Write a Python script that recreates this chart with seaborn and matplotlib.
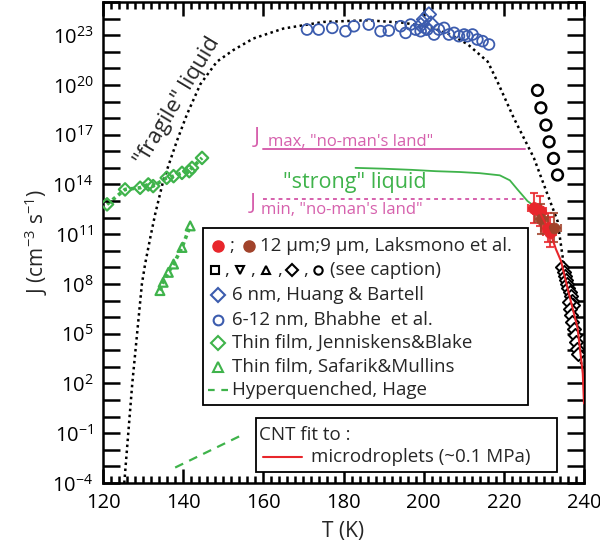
import matplotlib
matplotlib.use("Agg")
import matplotlib.pyplot as plt
import numpy as np
import seaborn as sns
from matplotlib.patches import Rectangle
from matplotlib.ticker import FixedLocator, MultipleLocator, FuncFormatter, NullFormatter

# temperatures in K, rates as log10(J / cm^-3 s^-1)
fragile_T = [125.3, 126.3, 127.3, 128.5, 129.7, 130.5, 131.8, 133.0, 135.0, 138.4, 140.9,
             144.3, 148.4, 152.5, 157.5, 165.0, 175.0, 186.0, 195.0, 202.0, 207.0, 211.0,
             216.0, 218.4, 222.5, 227.5, 230.9, 233.4, 236.0, 238.4, 239.5]
fragile_logJ = [-4.0, -1.0, 2.0, 5.0, 8.0, 9.2, 10.8, 12.2, 14.2, 16.6, 18.2,
                20.05, 21.4, 22.1, 22.8, 23.4, 23.8, 23.9, 23.75, 23.45, 23.0, 22.45,
                21.4, 20.2, 18.0, 15.6, 13.4, 11.8, 7.4, 4.2, 3.0]

strong_T = [183.0, 190.0, 197.0, 203.0, 209.0, 214.0, 219.0, 221.5, 223.4, 225.9, 227.0]
strong_logJ = [15.0, 14.95, 14.88, 14.8, 14.75, 14.68, 14.55, 14.25, 13.7, 13.0, 12.8]

bhabhe_T = [170.9, 173.8, 177.2, 180.5, 182.6, 186.3, 189.25, 191.3, 194.25, 195.5, 196.75,
            198.0, 199.25, 200.9, 202.6, 203.8, 205.1, 206.3, 207.6, 208.8, 210.1, 210.9,
            212.2, 213.4, 214.7, 216.3]
bhabhe_logJ = [23.34, 23.34, 23.44, 23.24, 23.54, 23.64, 23.24, 23.28, 23.54, 23.14, 23.64,
               23.34, 23.24, 23.34, 23.04, 23.34, 23.44, 23.04, 23.14, 22.94, 23.04, 22.94,
               23.04, 22.74, 22.64, 22.44]

huang_T = [199.3, 200.1, 201.3, 200.6, 201.8]
huang_logJ = [23.6, 23.95, 24.25, 23.45, 23.7]

caption_circ_T = [228.4, 229.25, 230.5, 231.3, 232.4, 233.4]
caption_circ_logJ = [19.67, 18.62, 17.58, 16.57, 15.57, 14.57]

caption_upper_T = [234.6, 234.9, 235.2, 235.5, 235.8, 236.1, 236.4, 236.7, 237.0, 237.3]
caption_upper_logJ = [9.0, 8.75, 8.5, 8.25, 8.0, 7.75, 7.5, 7.25, 7.0, 6.75]
caption_lower_T = [236.2, 236.5, 236.8, 237.1, 237.4, 237.7, 238.0, 238.3, 238.6]
caption_lower_logJ = [6.9, 6.5, 6.1, 5.7, 5.3, 4.9, 4.5, 4.1, 3.8]

laks12_T = [227.6, 229.0, 230.9, 231.4]
laks12_logJ = [12.6, 12.4, 11.4, 11.15]
laks9_T = [229.3, 232.6]
laks9_logJ = [11.9, 11.4]
err_logJ = 0.9
err_T = 1.6

cnt_T = [227.5, 229.0, 230.5, 232.0, 233.0, 234.25, 236.25, 238.4, 239.7, 240.0]
cnt_logJ = [12.9, 12.3, 11.6, 10.8, 10.1, 9.4, 7.4, 5.35, 2.6, 0.8]

jenn_T = [121.0, 125.5, 129.25, 131.3, 132.5, 135.9, 137.6, 139.7, 141.5, 142.2, 144.7]
jenn_logJ = [12.8, 13.7, 13.8, 14.0, 13.9, 14.4, 14.5, 14.7, 14.8, 15.0, 15.6]

safarik_T = [134.2, 135.0, 136.3, 137.6, 139.7, 141.75]
safarik_logJ = [7.6, 8.1, 8.7, 9.2, 10.2, 11.5]

hage_T = [138.0, 154.25]
hage_logJ = [-3.07, -1.16]

nml_T = [160.0, 225.3]
jmax_logJ = 16.15
jmin_logJ = 13.14

y_label_exps = [-4, -1, 2, 5, 8, 11, 14, 17, 20, 23]

PINK = "#d661ad"
GREEN = "#3fb34b"
BLUE = "#3c5cae"
RED = "#e8262b"
BROWN = "#a1432b"


def J(v):
    return 10.0 ** np.asarray(v, dtype=float)


sns.set_style("ticks")
plt.rcParams["font.family"] = ["Open Sans", "DejaVu Sans"]
plt.rcParams["mathtext.default"] = "regular"
plt.rcParams["axes.axisbelow"] = False

fig, ax = plt.subplots(figsize=(6.0, 5.45), dpi=100)
fig.subplots_adjust(left=0.1717, right=0.9733, bottom=0.1138, top=0.9963)
ax.set_yscale("log")

# curves
sns.lineplot(x=fragile_T, y=J(fragile_logJ), ax=ax, color="black", lw=1.8,
             linestyle=(0, (1, 1.4)), estimator=None, sort=False)
sns.lineplot(x=strong_T, y=J(strong_logJ), ax=ax, color=GREEN, lw=1.3, estimator=None)
ax.plot(nml_T, J([jmax_logJ, jmax_logJ]), color=PINK, lw=1.4)
ax.plot(nml_T, J([jmin_logJ, jmin_logJ]), color=PINK, lw=1.4, linestyle=(0, (2, 2)))
sns.lineplot(x=hage_T, y=J(hage_logJ), ax=ax, color=GREEN, lw=1.6,
             linestyle=(0, (4, 3)), estimator=None)

# thin films
sns.lineplot(x=jenn_T, y=J(jenn_logJ), ax=ax, color=GREEN, lw=2.6,
             linestyle=(0, (1, 1)), estimator=None)
sns.scatterplot(x=jenn_T, y=J(jenn_logJ), ax=ax, marker="D", s=40, facecolor="none",
                edgecolor=GREEN, linewidth=1.6, zorder=3)
sns.lineplot(x=safarik_T, y=J(safarik_logJ), ax=ax, color=GREEN, lw=2.6,
             linestyle=(0, (1, 1)), estimator=None)
sns.scatterplot(x=safarik_T, y=J(safarik_logJ), ax=ax, marker="^", s=40, facecolor="none",
                edgecolor=GREEN, linewidth=1.6, zorder=3)

# nanodroplets
sns.scatterplot(x=bhabhe_T, y=J(bhabhe_logJ), ax=ax, marker="o", s=60, facecolor="none",
                edgecolor=BLUE, linewidth=1.3, zorder=3)
sns.scatterplot(x=huang_T, y=J(huang_logJ), ax=ax, marker="D", s=55, facecolor="none",
                edgecolor=BLUE, linewidth=1.3, zorder=3)

# microdroplets (see caption)
sns.scatterplot(x=caption_circ_T, y=J(caption_circ_logJ), ax=ax, marker="o", s=60,
                facecolor="none", edgecolor="black", linewidth=1.8, zorder=3)
sns.scatterplot(x=caption_upper_T, y=J(caption_upper_logJ), ax=ax, marker="D", s=45,
                facecolor="white", edgecolor="black", linewidth=1.4, zorder=3)
sns.scatterplot(x=caption_lower_T, y=J(caption_lower_logJ), ax=ax, marker="D", s=45,
                facecolor="white", edgecolor="black", linewidth=1.4, zorder=3)

# Laksmono et al.
for Ts, Ls, col in [(laks12_T, laks12_logJ, RED), (laks9_T, laks9_logJ, BROWN)]:
    y = J(Ls)
    yerr = [y - y / 10 ** err_logJ, y * 10 ** err_logJ - y]
    ax.errorbar(Ts, y, yerr=yerr, xerr=err_T, fmt="none", ecolor=col, elinewidth=1.5,
                capsize=3, capthick=1.5, alpha=0.85, zorder=4)
sns.scatterplot(x=laks12_T, y=J(laks12_logJ), ax=ax, marker="o", s=70, color=RED,
                edgecolor=RED, zorder=5)
sns.scatterplot(x=laks9_T, y=J(laks9_logJ), ax=ax, marker="o", s=60, color=BROWN,
                edgecolor=BROWN, zorder=5)
sns.lineplot(x=cnt_T, y=J(cnt_logJ), ax=ax, color=RED, lw=1.5, estimator=None, zorder=6)

# axes and inward ticks on all four sides
ax.set_xlim(120, 240)
ax.set_ylim(1e-4, 1e25)
ax.xaxis.set_major_locator(MultipleLocator(20))
ax.xaxis.set_minor_locator(MultipleLocator(2))
ax.yaxis.set_major_locator(FixedLocator([10.0 ** e for e in y_label_exps]))
ax.yaxis.set_minor_locator(FixedLocator([10.0 ** e for e in range(-4, 26)]))
ax.yaxis.set_major_formatter(FuncFormatter(lambda v, p: "$10^{%d}$" % round(np.log10(v))))
ax.yaxis.set_minor_formatter(NullFormatter())
ax.tick_params(axis="both", which="both", direction="in", bottom=True, top=True,
               left=True, right=True, color="black", width=1.8)
ax.tick_params(axis="both", which="major", labelsize=14.5, labelcolor="black", pad=7)
ax.tick_params(axis="x", which="major", length=10)
ax.tick_params(axis="x", which="minor", length=5)
ax.tick_params(axis="y", which="both", length=12)
for sp in ax.spines.values():
    sp.set_visible(True)
    sp.set_linewidth(1.8)
    sp.set_color("black")
ax.set_xlabel("T (K)", fontsize=15, labelpad=6)
ax.set_ylabel("J (cm$^{-3}$ s$^{-1}$)", fontsize=15, labelpad=2)

# annotations
ax.text(138.6, J(19.0), '"fragile" liquid', rotation=59, fontsize=16,
        ha="center", va="center", rotation_mode="anchor")
ax.text(182.8, J(14.1), '"strong" liquid', color=GREEN, fontsize=15.5,
        ha="center", va="center")
ax.text(157.6, J(16.5), "J", color=PINK, fontsize=16, ha="left", va="baseline")
ax.text(161.2, J(16.3), 'max, "no-man\'s land"', color=PINK, fontsize=12,
        ha="left", va="baseline")
ax.text(156.6, J(12.5), "J", color=PINK, fontsize=16, ha="left", va="baseline")
ax.text(159.3, J(12.2), 'min, "no-man\'s land"', color=PINK, fontsize=12,
        ha="left", va="baseline")


# legend boxes (axes fraction)
def fx(px):
    return (px - 103) / 481.0


def fy(py):
    return (483 - py) / 481.0


tr = ax.transAxes
ax.add_patch(Rectangle((fx(203), fy(405)), fx(528) - fx(203), fy(228) - fy(405),
                       transform=tr, facecolor="white", edgecolor="black", lw=1.3, zorder=10))
ax.add_patch(Rectangle((fx(256), fy(472)), fx(557) - fx(256), fy(418) - fy(472),
                       transform=tr, facecolor="white", edgecolor="black", lw=1.3, zorder=10))

LFS = 13.5
kw = dict(transform=tr, zorder=12, fontsize=LFS, va="center", ha="left")
mk = dict(transform=tr, zorder=12, clip_on=False, linestyle="none")

rows = [246, 270, 295, 320, 343, 367, 390]
ax.plot(fx(218), fy(rows[0]), marker="o", ms=8, color=RED, **mk)
ax.text(fx(229), fy(rows[0]), ";", **kw)
ax.plot(fx(249), fy(rows[0]), marker="o", ms=8, color=BROWN, **mk)
ax.text(fx(260), fy(rows[0]), "12 \u00b5m;9 \u00b5m, Laksmono et al.", **kw)

for px, m in [(215, "s"), (240, "v"), (266, "^"), (292, "D"), (318, "o")]:
    ax.plot(fx(px), fy(rows[1]), marker=m, ms=6, mfc="none", mec="black", mew=1.5, **mk)
for px in [224, 250, 277, 303]:
    ax.text(fx(px), fy(rows[1]), ",", **kw)
ax.text(fx(330), fy(rows[1]), "(see caption)", **kw)

items = [("D", BLUE, "6 nm, Huang & Bartell"),
         ("o", BLUE, "6-12 nm, Bhabhe  et al."),
         ("D", GREEN, "Thin film, Jenniskens&Blake"),
         ("^", GREEN, "Thin film, Safarik&Mullins")]
for (m, c, label), py in zip(items, rows[2:6]):
    ax.plot(fx(218), fy(py), marker=m, ms=7, mfc="none", mec=c, mew=1.5, **mk)
    ax.text(fx(232), fy(py), label, **kw)
ax.plot([fx(208), fx(228)], [fy(rows[6]), fy(rows[6])], color=GREEN, lw=1.6,
        linestyle=(0, (3, 3)), transform=tr, zorder=12, clip_on=False)
ax.text(fx(232), fy(rows[6]), "Hyperquenched, Hage", **kw)

ax.text(fx(259), fy(435), "CNT fit to :", **kw)
ax.plot([fx(263), fx(302)], [fy(457), fy(457)], color=RED, lw=1.5, transform=tr,
        zorder=12, clip_on=False)
ax.text(fx(311), fy(457), "microdroplets (~0.1 MPa)", **kw)

fig.savefig("out.png", dpi=100)
